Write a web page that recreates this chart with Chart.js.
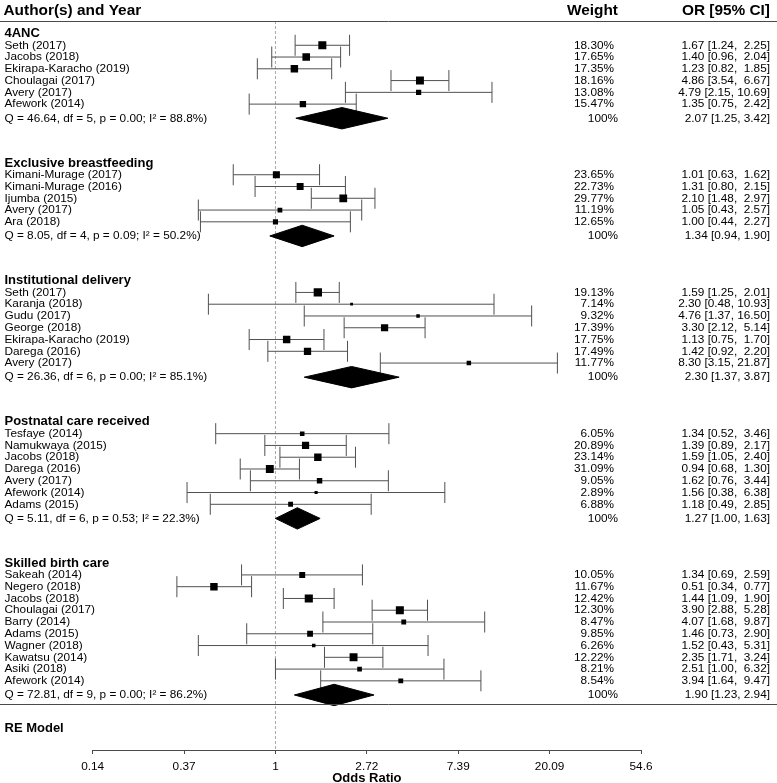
<!DOCTYPE html>
<html><head><meta charset="utf-8">
<script src="https://cdn.jsdelivr.net/npm/chart.js@4.4.1/dist/chart.umd.min.js"></script>
<style>html,body{margin:0;padding:0;background:#fff;overflow:hidden}canvas{display:block}</style>
</head><body>
<canvas id="c" width="777" height="783"></canvas>
<script>
// ---------------- DATA ----------------
const groupNames = ["4ANC", "Exclusive breastfeeding", "Institutional delivery", "Postnatal care received", "Skilled birth care"];

const studies4ANC = ["Seth (2017)", "Jacobs (2018)", "Ekirapa-Karacho (2019)", "Choulagai (2017)", "Avery (2017)", "Afework (2014)"];
const or4ANC = [1.67, 1.40, 1.23, 4.86, 4.79, 1.35];
const lo4ANC = [1.24, 0.96, 0.82, 3.54, 2.15, 0.75];
const hi4ANC = [2.25, 2.04, 1.85, 6.67, 10.69, 2.42];
const wt4ANC = [18.30, 17.65, 17.35, 18.16, 13.08, 15.47];

const studiesEBF = ["Kimani-Murage (2017)", "Kimani-Murage (2016)", "Ijumba (2015)", "Avery (2017)", "Ara (2018)"];
const orEBF = [1.01, 1.31, 2.10, 1.05, 1.00];
const loEBF = [0.63, 0.80, 1.48, 0.43, 0.44];
const hiEBF = [1.62, 2.15, 2.97, 2.57, 2.27];
const wtEBF = [23.65, 22.73, 29.77, 11.19, 12.65];

const studiesInst = ["Seth (2017)", "Karanja (2018)", "Gudu (2017)", "George (2018)", "Ekirapa-Karacho (2019)", "Darega (2016)", "Avery (2017)"];
const orInst = [1.59, 2.30, 4.76, 3.30, 1.13, 1.42, 8.30];
const loInst = [1.25, 0.48, 1.37, 2.12, 0.75, 0.92, 3.15];
const hiInst = [2.01, 10.93, 16.50, 5.14, 1.70, 2.20, 21.87];
const wtInst = [19.13, 7.14, 9.32, 17.39, 17.75, 17.49, 11.77];

const studiesPNC = ["Tesfaye (2014)", "Namukwaya (2015)", "Jacobs (2018)", "Darega (2016)", "Avery (2017)", "Afework (2014)", "Adams (2015)"];
const orPNC = [1.34, 1.39, 1.59, 0.94, 1.62, 1.56, 1.18];
const loPNC = [0.52, 0.89, 1.05, 0.68, 0.76, 0.38, 0.49];
const hiPNC = [3.46, 2.17, 2.40, 1.30, 3.44, 6.38, 2.85];
const wtPNC = [6.05, 20.89, 23.14, 31.09, 9.05, 2.89, 6.88];

const studiesSBC = ["Sakeah (2014)", "Negero (2018)", "Jacobs (2018)", "Choulagai (2017)", "Barry (2014)", "Adams (2015)", "Wagner (2018)", "Kawatsu (2014)", "Asiki (2018)", "Afework (2014)"];
const orSBC = [1.34, 0.51, 1.44, 3.90, 4.07, 1.46, 1.52, 2.35, 2.51, 3.94];
const loSBC = [0.69, 0.34, 1.09, 2.88, 1.68, 0.73, 0.43, 1.71, 1.00, 1.64];
const hiSBC = [2.59, 0.77, 1.90, 5.28, 9.87, 2.90, 5.31, 3.24, 6.32, 9.47];
const wtSBC = [10.05, 11.67, 12.42, 12.30, 8.47, 9.85, 6.26, 12.22, 8.21, 8.54];

const pooledOR = [2.07, 1.34, 2.30, 1.27, 1.90];
const pooledLo = [1.25, 0.94, 1.37, 1.00, 1.23];
const pooledHi = [3.42, 1.90, 3.87, 1.63, 2.94];
const hetQ = [46.64, 8.05, 26.36, 5.11, 72.81];
const hetDf = [5, 4, 6, 6, 9];
const hetP = [0.00, 0.09, 0.00, 0.53, 0.00];
const hetI2 = [88.8, 50.2, 85.1, 22.3, 86.2];

const tickExponents = [-2, -1, 0, 1, 2, 3, 4];
const tickLabels = ["0.14", "0.37", "1", "2.72", "7.39", "20.09", "54.6"];
const nullOR = 1;

// ---------------- LAYOUT (derived) ----------------
const groups = [
  [studies4ANC, or4ANC, lo4ANC, hi4ANC, wt4ANC],
  [studiesEBF, orEBF, loEBF, hiEBF, wtEBF],
  [studiesInst, orInst, loInst, hiInst, wtInst],
  [studiesPNC, orPNC, loPNC, hiPNC, wtPNC],
  [studiesSBC, orSBC, loSBC, hiSBC, wtSBC]
];
const study = []; // flat
const headerRows = [], summaryRows = [];
let r = 0;
groups.forEach((g, gi) => {
  const [names, ors, los, his, wts] = g;
  headerRows.push(r);
  names.forEach((n, i) => study.push({name: n, or: ors[i], lo: los[i], hi: his[i], wt: wts[i], row: r + 1 + i}));
  summaryRows.push(r + names.length + 1.2);
  r += names.length + 5;
});
const sepRow = summaryRows[summaryRows.length - 1] + 0.8;
const reRow = sepRow + 2;

// marker sizes from precision (1/(vi+tau2)), like metafor psize in [0.5,1.5]
const TAU2 = 0.2;
const prec = study.map(s => { const se = (Math.log(s.hi) - Math.log(s.lo)) / 3.92; return 1 / (se * se + TAU2); });
const pMin = Math.min(...prec), pMax = Math.max(...prec);
const sideOf = prec.map(p => 2.8 + 5.5 * ((p - pMin) / (pMax - pMin)));

const PX_ROW = 11.77, ROW0 = 33.5, TOP = 21, BOTTOM = 750;
const yMin = (TOP - ROW0) / PX_ROW, yMax = (BOTTOM - ROW0) / PX_ROW;
const DIA_H = 10.7 / PX_ROW;

// ---------------- DATASETS ----------------
const whiskerData = [];
study.forEach(s => { whiskerData.push({x: s.lo, y: s.row}, {x: s.hi, y: s.row}, {x: s.hi, y: null}); });
const capData = [];
study.forEach(s => { capData.push({x: s.lo, y: s.row}, {x: s.hi, y: s.row}); });
const squareData = study.map(s => ({x: s.or, y: s.row}));

const GREY = '#505050';
const datasets = [
  { type: 'scatter', label: 'squares', data: squareData, pointStyle: 'rect',
    pointRadius: ctx => sideOf[ctx.dataIndex] / Math.SQRT2, pointBorderWidth: 0,
    backgroundColor: '#000', borderColor: '#000', order: 0 },
  { type: 'line', label: 'whiskers', data: whiskerData, borderColor: GREY, borderWidth: 1,
    pointRadius: 0, spanGaps: false, fill: false, tension: 0, order: 3 },
  { type: 'scatter', label: 'caps', data: capData, pointStyle: 'line', rotation: 90,
    pointRadius: 10.5, borderColor: GREY, pointBorderColor: GREY, pointBorderWidth: 1, borderWidth: 1, order: 2 },
  { type: 'line', label: 'ref', data: [{x: nullOR, y: yMin}, {x: nullOR, y: yMax}], borderColor: '#a8a8a8',
    borderWidth: 1, borderDash: [3, 2], pointRadius: 0, fill: false, order: 5 }
];
pooledOR.forEach((est, gi) => {
  const row = summaryRows[gi];
  datasets.push({ type: 'line', label: 'diamond' + gi,
    data: [{x: pooledLo[gi], y: row}, {x: est, y: row - DIA_H}, {x: pooledHi[gi], y: row}, {x: est, y: row + DIA_H}, {x: pooledLo[gi], y: row}],
    borderColor: '#000', backgroundColor: '#000', borderWidth: 1, pointRadius: 0, fill: 'shape', tension: 0, order: 1 });
});

// ---------------- TEXT PLUGIN ----------------
const FONT = '"Liberation Sans", Arial, Helvetica, sans-serif';
const pad5 = v => { const s = v.toFixed(2); return ' '.repeat(Math.max(0, 5 - s.length)) + s; };
const textPlugin = {
  id: 'forestText',
  afterDraw(chart) {
    const ctx = chart.ctx, ys = chart.scales.y, W = chart.width;
    const Y = v => ys.getPixelForValue(v);
    ctx.save();
    // separator lines
    ctx.strokeStyle = '#4a4a4a'; ctx.lineWidth = 1;
    [TOP, Math.round(Y(sepRow))].forEach(yy => { ctx.beginPath(); ctx.moveTo(0, yy + 0.5); ctx.lineTo(W, yy + 0.5); ctx.stroke(); });
    ctx.fillStyle = '#000'; ctx.textBaseline = 'middle';
    // headers
    ctx.font = `bold 15.4px ${FONT}`;
    ctx.textAlign = 'left'; ctx.fillText('Author(s) and Year', 3.5, 11);
    ctx.textAlign = 'right'; ctx.fillText('Weight', 618, 11); ctx.fillText('OR [95% CI]', 770, 11);
    // group headers
    ctx.font = `bold 13px ${FONT}`; ctx.textAlign = 'left';
    groupNames.forEach((g, gi) => ctx.fillText(g, 4.5, Y(headerRows[gi])));
    ctx.fillText('RE Model', 4.5, Y(reRow));
    // studies
    ctx.font = `11.8px ${FONT}`;
    study.forEach(s => {
      const y = Y(s.row);
      ctx.textAlign = 'left'; ctx.fillText(s.name, 4.5, y);
      ctx.textAlign = 'right'; ctx.fillText(s.wt.toFixed(2) + '%', 614, y);
      ctx.fillText(`${s.or.toFixed(2)} [${s.lo.toFixed(2)}, ${pad5(s.hi)}]`, 770, y);
    });
    // summaries
    pooledOR.forEach((est, gi) => {
      const y = Y(summaryRows[gi]);
      ctx.textAlign = 'left';
      ctx.fillText(`Q = ${hetQ[gi].toFixed(2)}, df = ${hetDf[gi]}, p = ${hetP[gi].toFixed(2)}; I\u00B2 = ${hetI2[gi].toFixed(1)}%)`, 4.5, y);
      ctx.textAlign = 'right';
      ctx.fillText('100%', 618, y);
      ctx.fillText(`${est.toFixed(2)} [${pooledLo[gi].toFixed(2)}, ${pooledHi[gi].toFixed(2)}]`, 770, y);
    });
    ctx.restore();
  }
};

// ---------------- CHART ----------------
new Chart(document.getElementById('c'), {
  type: 'scatter',
  data: { datasets },
  options: {
    responsive: false, animation: false, devicePixelRatio: 1,
    layout: { padding: { left: 92.7, right: 136, top: TOP, bottom: 0 } },
    plugins: { legend: { display: false }, tooltip: { enabled: false } },
    events: [],
    scales: {
      x: {
        type: 'logarithmic',
        min: Math.exp(tickExponents[0]), max: Math.exp(tickExponents[tickExponents.length - 1]),
        afterBuildTicks: s => { s.ticks = tickExponents.map(e => ({ value: Math.exp(e) })); },
        afterFit: s => { s.height = 783 - BOTTOM; },
        ticks: { autoSkip: false, maxRotation: 0, padding: 5.5, color: '#000',
          font: { family: FONT, size: 11.8 }, callback: (v, i) => tickLabels[i] },
        grid: { display: true, drawOnChartArea: false, drawTicks: true, tickLength: 4, color: '#4a4a4a' },
        border: { display: true, color: '#4a4a4a' },
        title: { display: true, text: 'Odds Ratio', color: '#000', padding: { top: 0, bottom: -1.5 },
          font: { family: FONT, size: 13, weight: 'bold', lineHeight: 1 } }
      },
      y: { type: 'linear', display: false, reverse: true, min: yMin, max: yMax }
    }
  },
  plugins: [textPlugin]
});
</script>
</body></html>
